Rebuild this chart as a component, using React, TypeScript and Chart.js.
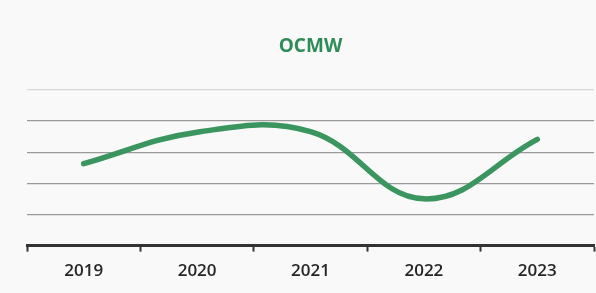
import React, { useEffect, useRef } from "react";
import { Chart, registerables } from "chart.js";

Chart.register(...registerables);

const categories = ["2019", "2020", "2021", "2022", "2023"];
const values = [2.63, 3.64, 3.66, 1.5, 3.41];
const title = "OCMW";

export default function App() {
  const ref = useRef<HTMLCanvasElement | null>(null);

  useEffect(() => {
    document.body.style.margin = "0";
    document.body.style.background = "#f8f9f8";
    const ctx = ref.current;
    if (!ctx) return;
    const chart = new Chart(ctx, {
      type: "line",
      data: {
        labels: categories,
        datasets: [
          {
            data: values,
            borderColor: "#3a955f",
            borderWidth: 5.5,
            borderCapStyle: "round",
            tension: 0.4,
            pointRadius: 0,
            fill: false,
          },
        ],
      },
      options: {
        animation: false,
        responsive: false,
        maintainAspectRatio: false,
        layout: { padding: { left: 27, right: 2, top: 0, bottom: 3 } },
        plugins: {
          legend: { display: false },
          tooltip: { enabled: false },
          title: {
            display: true,
            text: title,
            color: "#2f8c57",
            font: { family: "Open Sans", size: 19, weight: "bold" },
            padding: { top: 35, bottom: 32 },
          },
        },
        scales: {
          x: {
            offset: true,
            grid: {
              offset: true,
              drawOnChartArea: false,
              drawTicks: true,
              tickLength: 6,
              tickColor: "#333",
              tickWidth: 2,
            },
            border: { display: true, color: "#333", width: 3 },
            ticks: {
              color: "#262626",
              padding: 9,
              font: { family: "Open Sans", size: 17, weight: "600" },
            },
          },
          y: {
            min: 0,
            max: 5,
            ticks: { display: false, stepSize: 1 },
            border: { display: false },
            grid: {
              drawTicks: false,
              color: (c: any) =>
                c.tick && c.tick.value === 5 ? "#d6d9dc" : c.tick && c.tick.value === 0 ? "rgba(0,0,0,0)" : "#9a9a9a",
              lineWidth: 1.2,
            },
          },
        },
      },
    });
    return () => chart.destroy();
  }, []);

  return <canvas ref={ref} width={596} height={293} style={{ display: "block" }} />;
}
